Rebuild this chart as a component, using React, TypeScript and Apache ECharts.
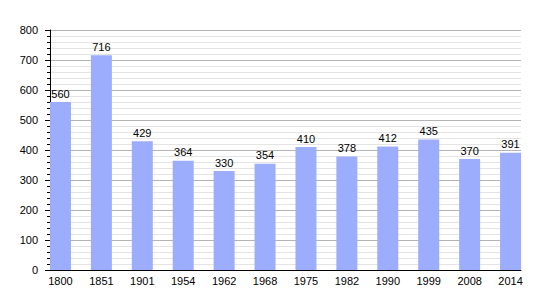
import React, { useEffect, useRef } from "react";
import * as echarts from "echarts";

const years = ["1800", "1851", "1901", "1954", "1962", "1968", "1975", "1982", "1990", "1999", "2008", "2014"];
const population = [560, 716, 429, 364, 330, 354, 410, 378, 412, 435, 370, 391];

export default function App() {
  const ref = useRef<HTMLDivElement>(null);
  useEffect(() => {
    const chart = echarts.init(ref.current!, null, { renderer: "svg" });
    const font = "Liberation Sans, Arial, sans-serif";
    chart.setOption({
      animation: false,
      grid: [
        { left: 50, right: 29, top: 30, bottom: 30 },
        { left: 40, right: 19, top: 30, bottom: 30 },
      ],
      xAxis: [
        {
          gridIndex: 0,
          type: "value",
          min: 0,
          max: 1,
          axisLine: { show: true, lineStyle: { color: "#000", width: 1 } },
          axisTick: { show: false },
          axisLabel: { show: false },
          splitLine: { show: false },
        },
        {
          gridIndex: 1,
          type: "category",
          data: years,
          axisLine: { show: false },
          axisTick: { show: false },
          axisLabel: { color: "#000", fontSize: 11, fontFamily: font, margin: 5 },
        },
      ],
      yAxis: [
        {
          gridIndex: 0,
          type: "value",
          min: 0,
          max: 800,
          interval: 100,
          axisLine: { show: true, lineStyle: { color: "#000", width: 1 } },
          axisTick: { show: true, length: 5, lineStyle: { color: "#000" } },
          minorTick: { show: true, splitNumber: 5, length: 3, lineStyle: { color: "#000" } },
          axisLabel: { color: "#000", fontSize: 11, fontFamily: font, margin: 12 },
          splitLine: { show: true, lineStyle: { color: "#b4b4b4", width: 1 } },
          minorSplitLine: { show: true, lineStyle: { color: "#e4e4e4", width: 1 } },
        },
        {
          gridIndex: 1,
          type: "value",
          min: 0,
          max: 800,
          show: false,
          splitLine: { show: false },
        },
      ],
      series: [
        {
          type: "bar",
          xAxisIndex: 1,
          yAxisIndex: 1,
          data: population,
          barWidth: 21,
          itemStyle: { color: "#9dadfd" },
          label: {
            show: true,
            position: "top",
            distance: 3,
            color: "#000",
            fontSize: 11,
            fontFamily: font,
          },
        },
      ],
    });
    return () => chart.dispose();
  }, []);
  return (
    <div
      ref={ref}
      style={{ position: "absolute", left: 0, top: 0, width: 550, height: 300, background: "#fff" }}
    />
  );
}
